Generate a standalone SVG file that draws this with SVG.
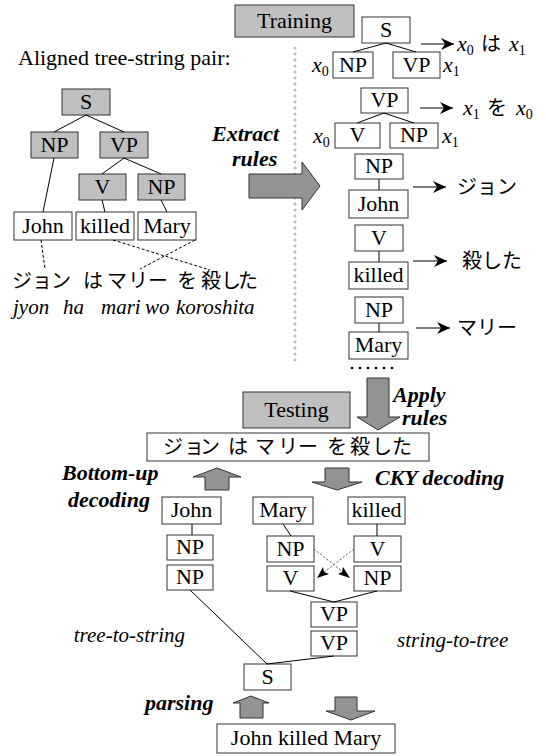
<svg xmlns="http://www.w3.org/2000/svg" width="546" height="756" viewBox="0 0 546 756">
<style>
.g{fill:#c0c0c0;stroke:#333;stroke-width:1}
.w{fill:#fff;stroke:#333;stroke-width:1}
.t{font-family:'Liberation Serif','Times New Roman',serif;font-size:22px;fill:#000;text-anchor:middle}
.l{font-family:'Liberation Serif','Times New Roman',serif;font-size:22px;fill:#000}
.bi{font-family:'Liberation Serif','Times New Roman',serif;font-size:22px;font-weight:bold;font-style:italic;fill:#000}
.i{font-family:'Liberation Serif','Times New Roman',serif;font-size:21px;font-style:italic;fill:#000}
.m{font-family:'Liberation Serif','Times New Roman',serif;font-size:22px;font-style:italic;fill:#000}
.sub{font-style:normal;font-size:14px}
.j{font-family:'Noto Sans CJK JP',sans-serif;font-size:20px;fill:#000}
.e{stroke:#000;stroke-width:1;fill:none}
.d{stroke:#000;stroke-width:1;fill:none;stroke-dasharray:3 2}
.dd{stroke:#555;stroke-width:1;fill:none;stroke-dasharray:2 2}
.ar{stroke:#000;stroke-width:1;fill:none;marker-end:url(#ah)}
.ga{fill:#939393;stroke:#333;stroke-width:1}
</style>
<defs>
<marker id="ah" markerWidth="14" markerHeight="12" refX="13" refY="6" orient="auto" markerUnits="userSpaceOnUse">
<path d="M0,0 L13,6 L0,12 L4,6 z" fill="#000"/>
</marker>
</defs>

<!-- section labels -->
<g id="training"><rect class="g" x="235" y="5" width="119" height="32"/><text class="t" x="294.5" y="28">Training</text></g>
<g id="aligned-label"><text class="l" x="18" y="65">Aligned tree-string pair:</text></g>

<!-- gray dotted divider -->
<line x1="295" y1="48" x2="295" y2="362" stroke="#bbb" stroke-width="3" stroke-linecap="round" stroke-dasharray="0 6"/>

<!-- left aligned tree -->
<g id="lt-S"><rect class="g" x="62" y="89" width="48" height="26"/><text class="t" x="86" y="109">S</text></g>
<g id="lt-NP"><rect class="g" x="31" y="132" width="47" height="26"/><text class="t" x="54.5" y="152">NP</text></g>
<g id="lt-VP"><rect class="g" x="100" y="132" width="48" height="26"/><text class="t" x="124" y="152">VP</text></g>
<g id="lt-V"><rect class="g" x="79" y="174" width="47" height="26"/><text class="t" x="102.5" y="194">V</text></g>
<g id="lt-NP2"><rect class="g" x="138" y="174" width="47" height="26"/><text class="t" x="161.5" y="194">NP</text></g>
<g id="lt-John"><rect class="w" x="14" y="212" width="58" height="28"/><text class="t" x="43" y="233">John</text></g>
<g id="lt-killed"><rect class="w" x="76" y="212" width="58" height="28"/><text class="t" x="105" y="233">killed</text></g>
<g id="lt-Mary"><rect class="w" x="138" y="212" width="58" height="28"/><text class="t" x="167" y="233">Mary</text></g>
<g id="lt-japanese"><text class="j" x="12 32 51 83 107 128 148 177 201 221 238" y="288">ジョンはマリーを殺した</text></g>
<g id="lt-romaji"><text class="i" y="314"><tspan x="13">jyon</tspan><tspan x="63">ha</tspan><tspan x="101">mari</tspan><tspan x="145">wo</tspan><tspan x="176">koroshita</tspan></text></g>

<!-- extracted rules -->
<g id="r1-S"><rect class="w" x="362" y="17" width="48" height="26"/><text class="t" x="386" y="37">S</text></g>
<g id="r1-NP"><rect class="w" x="333" y="52" width="40" height="26"/><text class="t" x="353" y="72">NP</text></g>
<g id="r1-VP"><rect class="w" x="393" y="52" width="47" height="26"/><text class="t" x="416.5" y="72">VP</text></g>
<g id="r1-vars"><text class="m" x="312" y="72">x<tspan class="sub" dy="4">0</tspan></text><text class="m" x="443" y="72">x<tspan class="sub" dy="4">1</tspan></text></g>
<g id="r1-out"><text class="m" x="457" y="51">x<tspan class="sub" dy="4">0</tspan></text><text class="j" x="481" y="51">は</text><text class="m" x="509" y="51">x<tspan class="sub" dy="4">1</tspan></text></g>

<g id="r2-VP"><rect class="w" x="361" y="88" width="47" height="25"/><text class="t" x="384.5" y="107">VP</text></g>
<g id="r2-V"><rect class="w" x="335" y="123" width="45" height="25"/><text class="t" x="357.5" y="142">V</text></g>
<g id="r2-NP"><rect class="w" x="390" y="123" width="48" height="25"/><text class="t" x="414" y="142">NP</text></g>
<g id="r2-vars"><text class="m" x="313" y="143">x<tspan class="sub" dy="4">0</tspan></text><text class="m" x="442" y="143">x<tspan class="sub" dy="4">1</tspan></text></g>
<g id="r2-out"><text class="m" x="463" y="115">x<tspan class="sub" dy="4">1</tspan></text><text class="j" x="487" y="115">を</text><text class="m" x="516" y="115">x<tspan class="sub" dy="4">0</tspan></text></g>

<g id="r3-NP"><rect class="w" x="355" y="154" width="48" height="25"/><text class="t" x="379" y="173">NP</text></g>
<g id="r3-John"><rect class="w" x="349" y="190" width="59" height="28"/><text class="t" x="378.5" y="211">John</text></g>
<g id="r3-out"><text class="j" x="457" y="194">ジョン</text></g>

<g id="r4-V"><rect class="w" x="355" y="225" width="48" height="26"/><text class="t" x="379" y="245">V</text></g>
<g id="r4-killed"><rect class="w" x="349" y="262" width="59" height="27"/><text class="t" x="378.5" y="282">killed</text></g>
<g id="r4-out"><text class="j" x="462" y="268">殺した</text></g>

<g id="r5-NP"><rect class="w" x="355" y="297" width="48" height="26"/><text class="t" x="379" y="317">NP</text></g>
<g id="r5-Mary"><rect class="w" x="349" y="332" width="59" height="27"/><text class="t" x="378.5" y="352">Mary</text></g>
<g id="r5-out"><text class="j" x="457" y="335">マリー</text></g>

<g id="more-rules" fill="#000"><circle cx="352" cy="368" r="1.3"/><circle cx="360" cy="368" r="1.3"/><circle cx="368" cy="368" r="1.3"/><circle cx="376" cy="368" r="1.3"/><circle cx="384" cy="368" r="1.3"/><circle cx="392" cy="368" r="1.3"/></g>

<!-- process labels -->
<g id="extract-label"><text class="bi" x="212" y="141">Extract</text><text class="bi" x="232" y="166">rules</text></g>
<g id="apply-label"><text class="bi" x="393" y="402">Apply</text><text class="bi" x="402" y="425">rules</text></g>
<g id="testing"><rect class="g" x="243" y="392" width="107" height="36"/><text class="t" x="296.5" y="417">Testing</text></g>
<g id="test-japanese"><rect class="w" x="147" y="433" width="282" height="28"/><text class="j" x="163 184 200 228 255 278 298 327 350 372 392" y="454">ジョンはマリーを殺した</text></g>
<g id="bottomup-label"><text class="bi" x="62" y="480">Bottom-up</text><text class="bi" x="68" y="507">decoding</text></g>
<g id="cky-label"><text class="bi" x="375" y="485">CKY decoding</text></g>

<!-- tree-to-string side -->
<g id="t2s-John"><rect class="w" x="162" y="497" width="59" height="27"/><text class="t" x="191.5" y="517">John</text></g>
<g id="t2s-NP"><rect class="w" x="167" y="535" width="46" height="25"/><text class="t" x="190" y="554">NP</text></g>
<g id="t2s-NP2"><rect class="w" x="167" y="565" width="46" height="25"/><text class="t" x="190" y="584">NP</text></g>
<g id="t2s-label"><text class="i" x="185" y="642" text-anchor="end">tree-to-string</text></g>

<!-- string-to-tree side -->
<g id="s2t-Mary"><rect class="w" x="253" y="497" width="60" height="27"/><text class="t" x="283" y="517">Mary</text></g>
<g id="s2t-killed"><rect class="w" x="348" y="497" width="57" height="27"/><text class="t" x="376.5" y="517">killed</text></g>
<g id="s2t-NP"><rect class="w" x="267" y="536" width="47" height="26"/><text class="t" x="290.5" y="556">NP</text></g>
<g id="s2t-V"><rect class="w" x="354" y="536" width="47" height="26"/><text class="t" x="377.5" y="556">V</text></g>
<g id="s2t-V2"><rect class="w" x="267" y="566" width="47" height="25"/><text class="t" x="290.5" y="585">V</text></g>
<g id="s2t-NP2"><rect class="w" x="354" y="566" width="47" height="25"/><text class="t" x="377.5" y="585">NP</text></g>
<g id="s2t-VP"><rect class="w" x="311" y="602" width="46" height="25"/><text class="t" x="334" y="621">VP</text></g>
<g id="s2t-VP2"><rect class="w" x="311" y="631" width="46" height="25"/><text class="t" x="334" y="650">VP</text></g>
<g id="s2t-label"><text class="i" x="397" y="647">string-to-tree</text></g>

<g id="final-S"><rect class="w" x="244" y="664" width="47" height="26"/><text class="t" x="267.5" y="684">S</text></g>
<g id="parsing-label"><text class="bi" x="145" y="710">parsing</text></g>
<g id="jkm"><rect class="w" x="217" y="724" width="178" height="29"/><text class="t" x="306" y="745">John killed Mary</text></g>

<!-- connectors -->
<g id="connectors">
<path class="e" d="M86,115 L54,132 M86,115 L124,132 M54,158 L43,212 M124,158 L102,174 M124,158 L161,174 M102,200 L105,212 M161,200 L167,212"/>
<path class="d" d="M41,240 L45,269 M113,240 L210,270 M195,240 L140,269"/>
<path class="e" d="M386,43 L353,52 M386,43 L416,52 M384,113 L357,123 M384,113 L414,123 M379,179 L379,190 M379,251 L379,262 M379,323 L379,332"/>
<path class="ar" d="M421,44 L454,44"/>
<path class="ar" d="M420,108 L453,108"/>
<path class="ar" d="M413,187 L446,187"/>
<path class="ar" d="M413,261 L447,261"/>
<path class="ar" d="M416,328 L450,328"/>
<path class="e" d="M192,524 L192,535 M190,590 L267,664 M283,524 L291,536 M377,524 L377,536 M290,591 L334,602 M377,591 L334,602 M334,656 L267,664"/>
<path class="dd" d="M314,549 L348,576"/>
<path class="dd" d="M354,549 L319,576"/>
<path d="M350,578 L338,574 L342,572 L343,567 z" fill="#000"/>
<path d="M317,578 L323,567 L324,572 L329,574 z" fill="#000"/>
</g>

<!-- big gray flow arrows -->
<g id="flow-arrows">
<polygon class="ga" points="249,174 302,174 302,162 320,186 302,210 302,198 249,198"/>
<polygon class="ga" points="367,378 389,378 389,417 400,417 378,430 357,417 367,417"/>
<polygon class="ga" points="205,490 205,477 193,477 217,468 241,477 229,477 229,490"/>
<polygon class="ga" points="325,468 349,468 349,482 362,482 337,490 312,482 325,482"/>
<polygon class="ga" points="240,718 240,703 233,703 251,696 269,703 263,703 263,718"/>
<polygon class="ga" points="335,697 357,697 357,711 375,711 351,720 326,711 335,711"/>
</g>
</svg>
